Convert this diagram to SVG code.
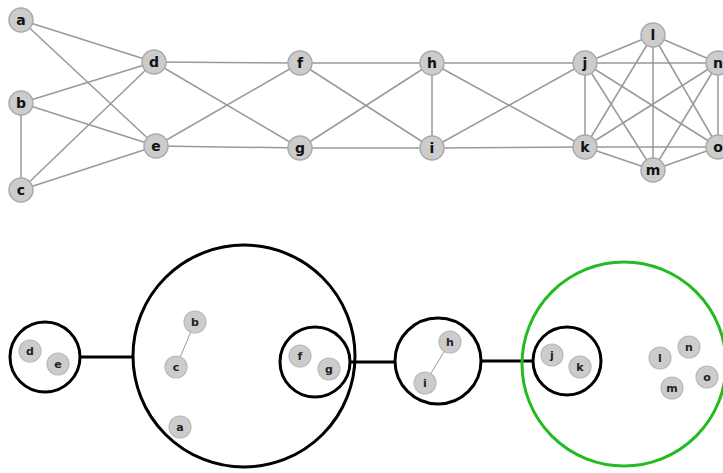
<svg xmlns="http://www.w3.org/2000/svg" width="723" height="473" viewBox="0 0 723 473">
<style>
.e{stroke:#999;stroke-width:1.5;fill:none}
.n circle{fill:#cccccc;stroke:#aaaaaa;stroke-width:1.5}
.n text{font-family:"DejaVu Sans",sans-serif;font-weight:bold;font-size:14px;fill:#111;text-anchor:middle;dominant-baseline:central}
.s circle{fill:#cccccc;stroke:#bbbbbb;stroke-width:1.2}
.s text{font-family:"DejaVu Sans",sans-serif;font-weight:bold;font-size:11px;fill:#222;text-anchor:middle;dominant-baseline:central}
.g{fill:none;stroke:#000;stroke-width:3}
.k{stroke:#000;stroke-width:3}
.t{stroke:#999;stroke-width:1}
</style>
<rect width="723" height="473" fill="#fff"/>
<g id="connectors">
<line class="e" x1="21" y1="20" x2="154" y2="62"/>
<line class="e" x1="21" y1="20" x2="156" y2="146"/>
<line class="e" x1="21" y1="103" x2="154" y2="62"/>
<line class="e" x1="21" y1="103" x2="156" y2="146"/>
<line class="e" x1="21" y1="103" x2="21" y2="190"/>
<line class="e" x1="21" y1="190" x2="154" y2="62"/>
<line class="e" x1="21" y1="190" x2="156" y2="146"/>
<line class="e" x1="154" y1="62" x2="300" y2="63"/>
<line class="e" x1="154" y1="62" x2="300" y2="148"/>
<line class="e" x1="156" y1="146" x2="300" y2="63"/>
<line class="e" x1="156" y1="146" x2="300" y2="148"/>
<line class="e" x1="300" y1="63" x2="432" y2="63"/>
<line class="e" x1="300" y1="63" x2="432" y2="148"/>
<line class="e" x1="300" y1="148" x2="432" y2="63"/>
<line class="e" x1="300" y1="148" x2="432" y2="148"/>
<line class="e" x1="432" y1="63" x2="432" y2="148"/>
<line class="e" x1="432" y1="63" x2="585" y2="63"/>
<line class="e" x1="432" y1="63" x2="585" y2="147"/>
<line class="e" x1="432" y1="148" x2="585" y2="63"/>
<line class="e" x1="432" y1="148" x2="585" y2="147"/>
<line class="e" x1="585" y1="63" x2="585" y2="147"/>
<line class="e" x1="585" y1="63" x2="653" y2="35"/>
<line class="e" x1="585" y1="63" x2="718" y2="63"/>
<line class="e" x1="585" y1="63" x2="718" y2="147"/>
<line class="e" x1="585" y1="63" x2="653" y2="170"/>
<line class="e" x1="585" y1="147" x2="653" y2="35"/>
<line class="e" x1="585" y1="147" x2="718" y2="63"/>
<line class="e" x1="585" y1="147" x2="718" y2="147"/>
<line class="e" x1="585" y1="147" x2="653" y2="170"/>
<line class="e" x1="653" y1="35" x2="718" y2="63"/>
<line class="e" x1="653" y1="35" x2="653" y2="170"/>
<line class="e" x1="653" y1="35" x2="718" y2="147"/>
<line class="e" x1="653" y1="170" x2="718" y2="63"/>
<line class="e" x1="653" y1="170" x2="718" y2="147"/>
<line class="e" x1="718" y1="63" x2="718" y2="147"/>
<line class="k" x1="80" y1="357" x2="134" y2="357"/>
<line class="k" x1="350" y1="362" x2="396" y2="362"/>
<line class="k" x1="481" y1="361" x2="533" y2="361"/>
<line class="t" x1="195" y1="322" x2="176" y2="367"/>
<line class="t" x1="450" y1="342" x2="425" y2="383"/>
</g>
<g id="a" class="n"><circle cx="21" cy="20" r="12"/><text x="21" y="20">a</text></g>
<g id="b" class="n"><circle cx="21" cy="103" r="12"/><text x="21" y="103">b</text></g>
<g id="c" class="n"><circle cx="21" cy="190" r="12"/><text x="21" y="190">c</text></g>
<g id="d" class="n"><circle cx="154" cy="62" r="12"/><text x="154" y="62">d</text></g>
<g id="e" class="n"><circle cx="156" cy="146" r="12"/><text x="156" y="146">e</text></g>
<g id="f" class="n"><circle cx="300" cy="63" r="12"/><text x="300" y="63">f</text></g>
<g id="g" class="n"><circle cx="300" cy="148" r="12"/><text x="300" y="148">g</text></g>
<g id="h" class="n"><circle cx="432" cy="63" r="12"/><text x="432" y="63">h</text></g>
<g id="i" class="n"><circle cx="432" cy="148" r="12"/><text x="432" y="148">i</text></g>
<g id="j" class="n"><circle cx="585" cy="63" r="12"/><text x="585" y="63">j</text></g>
<g id="k" class="n"><circle cx="585" cy="147" r="12"/><text x="585" y="147">k</text></g>
<g id="l" class="n"><circle cx="653" cy="35" r="12"/><text x="653" y="35">l</text></g>
<g id="m" class="n"><circle cx="653" cy="170" r="12"/><text x="653" y="170">m</text></g>
<g id="n" class="n"><circle cx="718" cy="63" r="12"/><text x="718" y="63">n</text></g>
<g id="o" class="n"><circle cx="718" cy="147" r="12"/><text x="718" y="147">o</text></g>
<g id="cluster-de"><circle class="g" cx="45" cy="357" r="35"/></g>
<g id="cluster-abcfg"><circle class="g" cx="244" cy="356" r="111"/></g>
<g id="cluster-fg"><circle class="g" cx="315" cy="362" r="35"/></g>
<g id="cluster-hi"><circle class="g" cx="438" cy="361" r="43"/></g>
<g id="cluster-jk"><circle class="g" cx="567" cy="361" r="34"/></g>
<g id="cluster-green"><circle cx="624" cy="364" r="102" fill="none" stroke="#22bb22" stroke-width="3"/></g>
<g id="bd" class="s"><circle cx="30" cy="351" r="11"/><text x="30" y="351">d</text></g>
<g id="be" class="s"><circle cx="58" cy="364" r="11"/><text x="58" y="364">e</text></g>
<g id="bb" class="s"><circle cx="195" cy="322" r="11"/><text x="195" y="322">b</text></g>
<g id="bc" class="s"><circle cx="176" cy="367" r="11"/><text x="176" y="367">c</text></g>
<g id="ba" class="s"><circle cx="180" cy="427" r="11"/><text x="180" y="427">a</text></g>
<g id="bf" class="s"><circle cx="300" cy="356" r="11"/><text x="300" y="356">f</text></g>
<g id="bg" class="s"><circle cx="329" cy="369" r="11"/><text x="329" y="369">g</text></g>
<g id="bh" class="s"><circle cx="450" cy="342" r="11"/><text x="450" y="342">h</text></g>
<g id="bi" class="s"><circle cx="425" cy="383" r="11"/><text x="425" y="383">i</text></g>
<g id="bj" class="s"><circle cx="552" cy="355" r="11"/><text x="552" y="355">j</text></g>
<g id="bk" class="s"><circle cx="580" cy="367" r="11"/><text x="580" y="367">k</text></g>
<g id="bl" class="s"><circle cx="660" cy="358" r="11"/><text x="660" y="358">l</text></g>
<g id="bn" class="s"><circle cx="689" cy="347" r="11"/><text x="689" y="347">n</text></g>
<g id="bo" class="s"><circle cx="707" cy="377" r="11"/><text x="707" y="377">o</text></g>
<g id="bm" class="s"><circle cx="672" cy="388" r="11"/><text x="672" y="388">m</text></g>
</svg>
